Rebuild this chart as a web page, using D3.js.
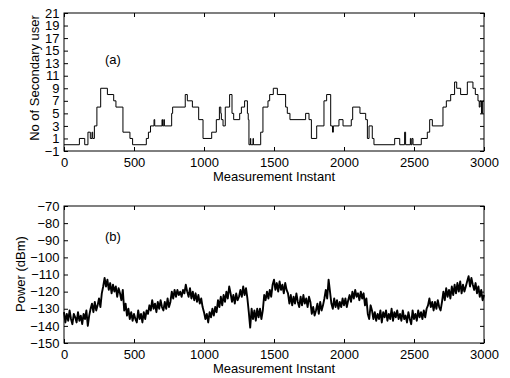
<!DOCTYPE html>
<html>
<head>
<meta charset="utf-8">
<script src="https://cdn.jsdelivr.net/npm/d3@7"></script>
<style>
  body { margin: 0; background: #fff; }
  svg { display: block; }
  text { font-family: "Liberation Sans", Arial, Helvetica, sans-serif; fill: #000; }
</style>
</head>
<body>
<div id="app"></div>
<script>
// ----- Data -----

// (a) number of secondary users: level holds from each start instant to the next
const suStart = [0,110,148,171,188,200,205,217,235,262,310,355,371,421,471,490,588,603,618,643,
  648,700,704,713,717,769,776,866,881,917,962,993,1055,1088,1110,1120,1124,1136,1152,1183,
  1200,1212,1255,1267,1290,1310,1316,1321,1331,1334,1350,1353,1405,1421,1457,1469,1495,1524,
  1583,1595,1614,1726,1750,1767,1805,1857,1876,1905,1918,1924,1964,1993,2052,2062,2114,2155,2167,2179,
  2202,2214,2362,2398,2433,2440,2474,2479,2486,2493,2552,2595,2612,2631,2707,2731,2762,2790,
  2805,2833,2881,2921,2938,2957,2966,2972,2982,2990];
const suLevel = [0,1,0,2,1,2,1,3,6,9,8,7,6,2,1,0,1,2,3,4,
  3,4,3,4,3,5,6,8,7,6,4,1,2,4,6,5,4,3,6,8,
  5,4,5,6,7,5,4,0,1,0,1,0,2,6,7,8,9,8,
  6,5,4,5,4,1,3,7,8,3,2,3,4,3,4,6,5,4,1,3,
  1,0,1,0,2,0,1,0,1,0,1,2,4,3,6,7,8,10,
  9,8,10,9,8,7,6,7,5,7];

// (b) received power (dBm), one reading every 10 instants from 0 to 3000
const powerStep = 10;
const powerDbm = [
  -132,-138,-133,-137,-131,-136,-139,-133,-135,-138,-132,-137,-134,-139,-133,-136,-131,-140,-134,-130,
  -127,-132,-126,-131,-128,-124,-129,-121,-117,-112,-117,-113,-119,-115,-121,-116,-120,-117,-123,-118,
  -121,-125,-119,-131,-127,-134,-130,-136,-132,-137,-133,-136,-138,-131,-136,-133,-138,-132,-136,-131,
  -133,-128,-131,-125,-130,-127,-132,-126,-130,-125,-129,-131,-126,-130,-124,-129,-126,-120,-124,-119,
  -123,-119,-122,-120,-123,-119,-121,-116,-120,-123,-118,-124,-120,-125,-121,-126,-122,-127,-124,-129,
  -132,-136,-133,-138,-132,-135,-130,-134,-129,-132,-125,-129,-123,-128,-122,-126,-120,-124,-117,-121,
  -126,-122,-127,-121,-125,-123,-119,-123,-117,-122,-118,-124,-132,-141,-130,-136,-131,-137,-130,-135,
  -130,-136,-131,-122,-125,-120,-124,-119,-123,-116,-113,-119,-115,-120,-114,-119,-116,-121,-115,-119,
  -121,-127,-122,-128,-123,-127,-121,-126,-129,-123,-128,-122,-127,-124,-129,-123,-126,-133,-129,-134,
  -131,-127,-133,-126,-131,-128,-124,-119,-124,-113,-120,-127,-130,-124,-129,-125,-130,-126,-129,-124,
  -128,-124,-129,-125,-122,-126,-120,-124,-119,-123,-121,-125,-120,-124,-121,-128,-124,-133,-136,-128,
  -131,-136,-132,-137,-133,-136,-131,-138,-132,-135,-131,-137,-133,-136,-130,-137,-132,-135,-131,-136,
  -133,-137,-131,-136,-134,-138,-132,-136,-139,-131,-136,-133,-137,-131,-135,-132,-136,-131,-135,-130,
  -128,-124,-129,-126,-131,-126,-130,-125,-129,-131,-126,-120,-125,-118,-123,-119,-124,-117,-122,-116,
  -121,-115,-120,-114,-121,-116,-120,-117,-114,-111,-117,-112,-116,-119,-115,-121,-117,-123,-119,-125,
  -122
];

// axes
const xTicks = [0, 500, 1000, 1500, 2000, 2500, 3000];
const suTicks = [-1, 1, 3, 5, 7, 9, 11, 13, 15, 17, 19, 21];
const powerTicks = [-150, -140, -130, -120, -110, -100, -90, -80, -70];

const W = 510, H = 378;
const left = 64, right = 484;
const panelA = { top: 13, bottom: 151 };
const panelB = { top: 206, bottom: 343 };
const fontSize = 13;

// ----- Main program -----

const svg = d3.select("#app").append("svg")
  .attr("width", W)
  .attr("height", H);

const xScale = d3.scaleLinear().domain([0, 3000]).range([left, right]);

function drawPanel(panel, yDomain, yTicks, yLabel, tag, tagY, labelX, labelY) {
  const yScale = d3.scaleLinear().domain(yDomain).range([panel.bottom, panel.top]);
  const g = svg.append("g");

  // frame
  g.append("rect")
    .attr("x", left).attr("y", panel.top)
    .attr("width", right - left).attr("height", panel.bottom - panel.top)
    .attr("fill", "none").attr("stroke", "#000").attr("stroke-width", 1);

  // inward ticks on all four sides
  const bottomAxis = g.append("g")
    .attr("transform", `translate(0,${panel.bottom})`)
    .call(d3.axisBottom(xScale).tickValues(xTicks).tickSize(-4).tickPadding(6.5).tickFormat(d3.format("d")));
  const topAxis = g.append("g")
    .attr("transform", `translate(0,${panel.top})`)
    .call(d3.axisTop(xScale).tickValues(xTicks).tickSize(-4).tickFormat(""));
  const leftAxis = g.append("g")
    .attr("transform", `translate(${left},0)`)
    .call(d3.axisLeft(yScale).tickValues(yTicks).tickSize(-4).tickPadding(4.5));
  const rightAxis = g.append("g")
    .attr("transform", `translate(${right},0)`)
    .call(d3.axisRight(yScale).tickValues(yTicks).tickSize(-4).tickFormat(""));

  [bottomAxis, topAxis, leftAxis, rightAxis].forEach(a => {
    a.select(".domain").remove();
    a.selectAll("line").attr("stroke", "#000");
    a.selectAll("text")
      .style("font-family", '"Liberation Sans", Arial, sans-serif')
      .style("font-size", fontSize + "px")
      .attr("fill", "#000");
  });

  // x label
  g.append("text")
    .attr("x", (left + right) / 2)
    .attr("y", panel.bottom + 30.3)
    .attr("text-anchor", "middle")
    .style("font-size", fontSize + "px")
    .text("Measurement Instant");

  // y label
  g.append("text")
    .attr("transform", `translate(${labelX},${labelY}) rotate(-90)`)
    .attr("text-anchor", "middle")
    .style("font-size", fontSize + "px")
    .text(yLabel);

  // panel tag
  g.append("text")
    .attr("x", 105)
    .attr("y", tagY)
    .style("font-size", fontSize + "px")
    .text(tag);

  return { g, yScale };
}

// (a)
const a = drawPanel(panelA, [-1, 21], suTicks, "No of Secondary user", "(a)", 64, 38.5, 78);
const suPoints = suStart.map((t, i) => [t, suLevel[i]]);
suPoints.push([3000, suLevel[suLevel.length - 1]]);
a.g.append("path")
  .datum(suPoints)
  .attr("fill", "none")
  .attr("stroke", "#000")
  .attr("stroke-width", 1)
  .attr("d", d3.line()
    .x(d => xScale(d[0]))
    .y(d => a.yScale(d[1]))
    .curve(d3.curveStepAfter));

// (b)
const b = drawPanel(panelB, [-150, -70], powerTicks, "Power (dBm)", "(b)", 241, 25.3, 274);
b.g.append("path")
  .datum(powerDbm)
  .attr("fill", "none")
  .attr("stroke", "#000")
  .attr("stroke-width", 1.9)
  .attr("stroke-linejoin", "round")
  .attr("d", d3.line()
    .x((d, i) => xScale(i * powerStep))
    .y(d => b.yScale(d)));
</script>
</body>
</html>
